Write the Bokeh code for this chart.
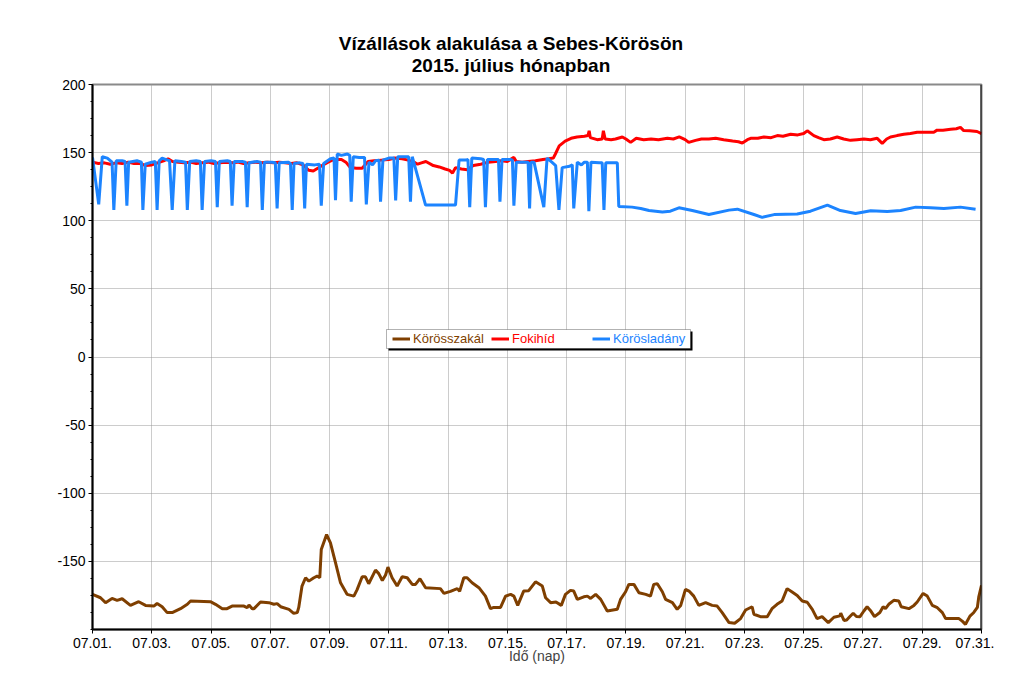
from bokeh.plotting import figure
from bokeh.layouts import column
from bokeh.models import (Legend, LegendItem, BoxAnnotation, Div, FixedTicker,
                          Range1d, Span)
from bokeh.embed import file_html
from bokeh.resources import INLINE

# ---------------- data (day offset from 07.01. 00:00, water level cm) -------------
title_lines = ["Vízállások alakulása a Sebes-Körösön", "2015. július hónapban"]
tick_days = [0, 2, 4, 6, 8, 10, 12, 14, 16, 18, 20, 22, 24, 26, 28, 30]
tick_labels = ["07.01.", "07.03.", "07.05.", "07.07.", "07.09.", "07.11.", "07.13.",
               "07.15.", "07.17.", "07.19.", "07.21.", "07.23.", "07.25.", "07.27.",
               "07.29.", "07.31."]
y_ticks = [-150, -100, -50, 0, 50, 100, 150, 200]
y_tick_labels = ["-150", "-100", "-50", "0", "50", "100", "150", "200"]
series_names = ["Körösszakál", "Fokihíd", "Körösladány"]

koros_t = [0.0, 0.27, 0.44, 0.66, 0.83, 1.0, 1.28, 1.56, 1.79, 2.07, 2.18, 2.35, 2.52,
           2.69, 2.97, 3.2, 3.31, 3.98, 4.15, 4.38, 4.54, 4.71, 5.11, 5.22, 5.28, 5.39,
           5.45, 5.67, 5.95, 6.12, 6.23, 6.35, 6.63, 6.79, 6.91, 6.96, 7.07, 7.19, 7.3,
           7.47, 7.58, 7.67, 7.72, 7.9, 8.03, 8.2, 8.37, 8.59, 8.82, 8.93, 9.1, 9.21,
           9.32, 9.55, 9.66, 9.78, 9.89, 9.97, 10.11, 10.28, 10.45, 10.62, 10.79, 10.9,
           11.05, 11.24, 11.74, 11.86, 12.08, 12.31, 12.39, 12.53, 12.64, 12.81, 13.04,
           13.26, 13.43, 13.54, 13.77, 13.94, 14.11, 14.22, 14.35, 14.55, 14.72, 14.95,
           15.18, 15.29, 15.46, 15.64, 15.82, 15.96, 16.13, 16.24, 16.36, 16.58, 16.7,
           16.81, 16.98, 17.15, 17.37, 17.71, 17.82, 17.99, 18.1, 18.27, 18.44, 18.67,
           18.83, 18.94, 19.06, 19.23, 19.34, 19.57, 19.73, 19.85, 20.01, 20.13, 20.29,
           20.46, 20.69, 20.91, 21.08, 21.25, 21.48, 21.67, 21.87, 22.04, 22.26, 22.32,
           22.54, 22.77, 22.93, 23.1, 23.27, 23.44, 23.61, 23.78, 23.95, 24.12, 24.29,
           24.45, 24.62, 24.83, 25.02, 25.22, 25.25, 25.36, 25.45, 25.56, 25.67, 25.78,
           25.9, 26.03, 26.14, 26.25, 26.39, 26.57, 26.68, 26.76, 26.87, 27.04, 27.21,
           27.29, 27.55, 27.72, 27.83, 28.03, 28.17, 28.34, 28.51, 28.68, 28.79, 29.24,
           29.36, 29.46, 29.61, 29.74, 29.86, 29.91, 30.0]
koros_v = [-174.2, -176.7, -180.3, -177.2, -178.6, -177.4, -182.3, -179.6, -182.3, -182.8,
           -180.9, -183.3, -187.6, -187.6, -184.7, -181.5, -179.1, -179.6, -181.5, -184.7,
           -184.7, -182.8, -182.8, -184.0, -182.0, -184.7, -184.7, -179.8, -180.3, -181.5,
           -181.0, -183.3, -185.2, -188.1, -187.6, -183.8, -168.1, -162.0, -164.5, -162.0,
           -160.8, -162.0, -141.3, -130.3, -136.4, -151.0, -165.7, -174.2, -175.5, -170.7,
           -161.3, -161.3, -166.4, -156.4, -159.0, -164.0, -160.0, -154.2, -162.0, -168.1,
           -161.3, -162.0, -166.9, -166.9, -162.7, -169.3, -170.0, -173.5, -172.0, -170.0,
           -172.0, -162.0, -162.0, -165.7, -169.3, -175.5, -184.7, -183.8, -183.8, -175.5,
           -174.2, -175.5, -182.3, -171.8, -171.5, -165.0, -168.1, -176.7, -180.3, -179.8,
           -182.3, -174.2, -171.3, -171.8, -177.9, -176.0, -175.5, -177.2, -174.2, -177.9,
           -186.4, -185.2, -177.9, -172.3, -166.9, -166.9, -173.0, -174.2, -175.5, -166.9,
           -166.4, -172.3, -177.9, -180.3, -185.2, -182.3, -170.5, -171.8, -175.5, -182.3,
           -180.3, -182.3, -182.8, -187.6, -194.9, -195.4, -192.0, -185.7, -183.3, -188.8,
           -190.6, -190.6, -184.7, -181.5, -179.1, -170.0, -172.5, -175.0, -179.1, -180.0,
           -185.2, -192.0, -190.6, -194.9, -191.0, -190.0, -188.0, -193.4, -193.0, -190.5,
           -188.1, -190.5, -190.6, -186.4, -183.3, -186.0, -190.6, -187.5, -183.3, -184.7,
           -181.5, -178.6, -179.1, -183.3, -184.7, -182.3, -179.8, -173.5, -175.5, -182.3,
           -184.0, -187.6, -192.0, -192.0, -194.0, -196.2, -190.2, -187.5, -183.8, -175.8,
           -167.6]

foki_t = [0.0, 0.2, 0.4, 0.6, 0.8, 1.0, 1.2, 1.4, 1.6, 1.8, 2.0, 2.2, 2.4, 2.55, 2.7, 2.9,
          3.1, 3.3, 3.5, 3.7, 3.9, 4.1, 4.3, 4.5, 4.7, 4.9, 5.1, 5.3, 5.5, 5.7, 5.9, 6.1,
          6.3, 6.5, 6.7, 6.9, 7.1, 7.3, 7.45, 7.6, 7.75, 7.95, 8.15, 8.4, 8.55, 8.7, 8.9,
          9.1, 9.3, 9.5, 9.75, 10.0, 10.2, 10.45, 10.65, 10.85, 10.97, 11.1, 11.25, 11.5,
          11.7, 11.9, 12.05, 12.15, 12.25, 12.45, 12.65, 12.85, 13.1, 13.35, 13.6, 13.8,
          14.0, 14.22, 14.3, 14.5, 14.7, 14.95, 15.2, 15.4, 15.55, 15.62, 15.75, 15.95,
          16.15, 16.35, 16.6, 16.72, 16.76, 16.8, 17.03, 17.2, 17.24, 17.3, 17.5, 17.65,
          17.88, 18.0, 18.16, 18.35, 18.6, 18.85, 19.1, 19.4, 19.6, 19.8, 20.0, 20.12,
          20.35, 20.55, 20.8, 21.03, 21.3, 21.6, 21.8, 21.93, 22.1, 22.21, 22.45, 22.66,
          22.9, 23.11, 23.3, 23.56, 23.8, 24.0, 24.12, 24.34, 24.5, 24.68, 24.9, 25.13,
          25.35, 25.58, 25.8, 26.03, 26.25, 26.48, 26.65, 26.8, 26.93, 27.15, 27.38, 27.6,
          27.83, 28.1, 28.39, 28.5, 28.7, 28.96, 29.15, 29.29, 29.4, 29.6, 29.85, 30.0]
foki_v = [143.0, 142.0, 142.5, 141.5, 142.5, 142.0, 143.0, 142.0, 142.0, 140.5, 141.0,
          142.5, 144.0, 145.5, 143.5, 143.0, 142.5, 143.0, 142.0, 142.5, 143.0, 142.0,
          142.5, 143.0, 142.5, 143.0, 142.0, 142.5, 143.0, 142.5, 143.0, 142.5, 143.0,
          142.5, 142.0, 142.5, 141.0, 137.0, 136.5, 138.5, 140.5, 143.0, 145.0, 145.0,
          143.0, 139.0, 138.5, 138.5, 143.5, 144.0, 144.5, 145.0, 146.0, 145.5, 144.5,
          143.0, 141.5, 142.5, 143.5, 140.5, 139.5, 138.0, 137.0, 135.0, 139.0, 138.0,
          137.5, 140.5, 141.5, 143.0, 143.5, 144.0, 143.5, 146.5, 143.5, 143.0, 143.5,
          144.0, 145.0, 145.5, 146.0, 149.0, 155.0, 158.5, 160.5, 161.5, 162.0, 162.5,
          166.0, 161.0, 159.5, 160.0, 166.0, 160.0, 159.5, 160.0, 161.5, 160.0, 157.5,
          160.5, 159.5, 160.0, 159.5, 160.5, 160.0, 161.5, 159.5, 157.5, 159.0, 160.0,
          160.0, 160.5, 159.5, 158.5, 158.0, 157.0, 159.5, 160.5, 160.5, 161.5, 161.0,
          162.5, 162.0, 163.5, 163.0, 164.0, 166.0, 162.5, 161.0, 159.5, 160.0, 161.5,
          160.0, 159.0, 159.5, 160.0, 159.5, 160.5, 156.8, 160.0, 161.5, 162.5, 163.5,
          164.0, 165.0, 165.0, 165.0, 166.5, 166.5, 167.2, 167.5, 168.5, 166.2, 166.0,
          165.5, 164.0]

ladany_t = [0.0, 0.21, 0.33, 0.5, 0.66, 0.72, 0.8, 1.0, 1.1, 1.16, 1.22, 1.5, 1.65, 1.7,
            1.78, 2.0, 2.12, 2.18, 2.25, 2.35, 2.6, 2.69, 2.78, 3.0, 3.14, 3.2, 3.28, 3.5,
            3.64, 3.7, 3.78, 4.0, 4.15, 4.21, 4.28, 4.55, 4.65, 4.71, 4.78, 5.05, 5.16,
            5.22, 5.28, 5.55, 5.67, 5.73, 5.8, 6.05, 6.17, 6.23, 6.3, 6.6, 6.68, 6.74, 6.8,
            7.0, 7.1, 7.16, 7.22, 7.5, 7.66, 7.72, 7.8, 8.03, 8.15, 8.2, 8.26, 8.4, 8.6,
            8.68, 8.73, 8.8, 9.0, 9.18, 9.24, 9.33, 9.45, 9.55, 9.67, 9.72, 9.8, 10.0,
            10.17, 10.23, 10.3, 10.6, 10.67, 10.73, 10.79, 11.24, 12.25, 12.37, 12.6,
            12.67, 12.73, 12.8, 13.1, 13.2, 13.26, 13.33, 13.65, 13.7, 13.75, 13.82, 14.1,
            14.17, 14.22, 14.3, 14.6, 14.7, 14.75, 14.8, 14.9, 15.23, 15.34, 15.5, 15.63,
            15.74, 15.85, 16.1, 16.19, 16.24, 16.36, 16.5, 16.6, 16.7, 16.75, 16.82, 17.1,
            17.2, 17.26, 17.32, 17.71, 17.76, 18.21, 18.5, 18.78, 19.23, 19.5, 19.79,
            20.24, 20.8, 21.48, 21.76, 22.32, 22.6, 23.0, 23.78, 24.23, 24.8, 25.24, 25.75,
            26.26, 26.82, 27.27, 27.78, 28.28, 28.73, 29.29, 29.8]
ladany_v = [146.5, 112.0, 147.0, 146.0, 143.0, 108.0, 144.0, 144.0, 143.5, 111.0, 143.0,
            144.0, 143.0, 108.0, 141.5, 143.0, 143.5, 108.0, 144.0, 146.0, 144.0, 108.0,
            144.0, 143.5, 143.0, 108.0, 143.5, 144.0, 143.5, 108.0, 143.5, 144.0, 143.5,
            110.0, 143.5, 144.0, 143.5, 111.0, 143.5, 143.5, 143.0, 110.0, 142.5, 143.5,
            143.0, 108.0, 143.0, 143.0, 142.5, 109.0, 142.5, 143.0, 142.0, 108.0, 142.0,
            142.5, 142.0, 109.0, 141.5, 141.0, 141.5, 111.0, 142.0, 145.5, 146.0, 115.0,
            149.0, 148.0, 149.0, 148.0, 114.0, 147.0, 146.5, 146.5, 112.0, 143.0, 141.0,
            144.0, 144.5, 114.0, 144.5, 146.0, 146.0, 115.0, 147.0, 147.0, 147.0, 114.0,
            147.0, 111.5, 111.5, 144.5, 144.5, 145.0, 110.0, 146.0, 145.5, 145.0, 110.0,
            145.0, 145.0, 145.0, 114.0, 145.0, 145.0, 144.5, 111.0, 143.0, 143.0, 143.0,
            109.0, 143.0, 143.0, 110.0, 146.0, 143.0, 140.5, 108.0, 139.0, 140.0, 141.0,
            109.0, 143.0, 141.0, 143.0, 143.0, 107.0, 143.0, 142.5, 142.5, 108.0, 142.5,
            142.5, 110.5, 110.0, 109.0, 107.5, 106.5, 107.0, 109.5, 107.5, 104.6, 107.8,
            108.5, 104.6, 102.5, 104.5, 105.0, 107.0, 111.5, 107.5, 105.3, 107.3, 106.8,
            107.5, 110.0, 109.5, 109.0, 110.0, 108.5]

colors = ["#7f3f00", "#ff0000", "#1c84ff"]

# ---------------- title block -------------
FONT = "Liberation Sans"
title_div = Div(
    text=('<div style="width:966px;margin-left:28px;padding-top:33px;'
          'text-align:center;font-family:\'Liberation Sans\';font-weight:bold;'
          'font-size:19px;line-height:22px;color:black;">'
          + "<br>".join(title_lines) + "</div>"),
    width=994, height=76, margin=0)

# ---------------- figure -------------
p = figure(width=994, height=590, output_backend="svg", toolbar_location=None,
           x_range=Range1d(0, 30), y_range=Range1d(-200, 200),
           min_border_left=92, min_border_right=13, min_border_top=8,
           min_border_bottom=36, background_fill_color="white",
           border_fill_color="white", margin=0)
p.title.visible = False
p.outline_line_color = "#8a8a8a"
p.outline_line_width = 2

# axes
p.xaxis.ticker = FixedTicker(ticks=tick_days)
p.xaxis.major_label_overrides = {d: l for d, l in zip(tick_days, tick_labels)}
p.yaxis.ticker = FixedTicker(ticks=y_ticks,
                             minor_ticks=[-200 + 12.5 * i for i in range(33)])
p.yaxis.major_label_overrides = {v: l for v, l in zip(y_ticks, y_tick_labels)}
for ax in (p.xaxis[0], p.yaxis[0]):
    ax.axis_line_color = "black"
    ax.axis_line_width = 2
    ax.major_tick_line_color = "black"
    ax.major_tick_in = 0
    ax.major_tick_out = 4
    ax.major_label_text_font = FONT
    ax.major_label_text_font_size = "14px"
    ax.major_label_text_color = "black"
p.xaxis.minor_tick_line_color = None
p.yaxis.minor_tick_in = 0
p.yaxis.minor_tick_out = 2
p.yaxis.minor_tick_line_color = "black"
p.xaxis.major_label_standoff = 4
p.yaxis.major_label_standoff = 3
p.xaxis.axis_label = "Idő (nap)"
p.xaxis.axis_label_text_font = FONT
p.xaxis.axis_label_text_font_size = "14px"
p.xaxis.axis_label_text_font_style = "normal"
p.xaxis.axis_label_standoff = -3

# grid
p.xgrid.ticker = FixedTicker(ticks=tick_days)
p.ygrid.ticker = FixedTicker(ticks=y_ticks)
for g in (p.xgrid[0], p.ygrid[0]):
    g.grid_line_color = "#999999"
    g.grid_line_dash = "1 1"
    g.grid_line_width = 1

# series
r_k = p.line(koros_t, koros_v, line_color=colors[0], line_width=3)
r_f = p.line(foki_t, foki_v, line_color=colors[1], line_width=3)
r_l = p.line(ladany_t, ladany_v, line_color=colors[2], line_width=3)

# right frame edge
p.add_layout(Span(location=30, dimension="height", line_color="black", line_width=2))

# legend box with shadow
p.add_layout(BoxAnnotation(left=296, right=600, bottom=279, top=298,
                           left_units="screen", right_units="screen",
                           bottom_units="screen", top_units="screen",
                           fill_color="black", fill_alpha=1, line_color=None))
p.add_layout(BoxAnnotation(left=294, right=598, bottom=281, top=300,
                           left_units="screen", right_units="screen",
                           bottom_units="screen", top_units="screen",
                           fill_color="white", fill_alpha=1, line_color="black",
                           line_width=1))
for name, r, c, xloc in zip(series_names, [r_k, r_f, r_l], colors, [300, 399, 500]):
    leg = Legend(items=[LegendItem(label=name, renderers=[r])], location=(xloc, 283),
                 orientation="horizontal", border_line_color=None,
                 background_fill_alpha=0, padding=0, margin=0, glyph_width=18,
                 glyph_height=15, label_height=15, label_standoff=3,
                 label_text_color=c, label_text_font=FONT,
                 label_text_font_size="13px")
    p.add_layout(leg)

layout = column(title_div, p, spacing=0)
open("out.html", "w").write(file_html(layout, INLINE))
